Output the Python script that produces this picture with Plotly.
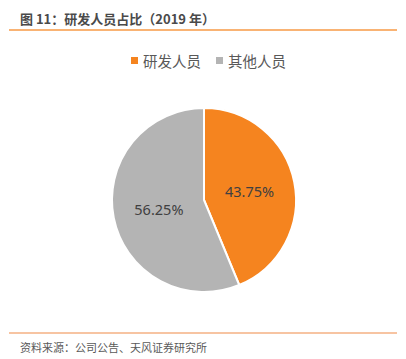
import plotly.graph_objects as go

labels = ["研发人员", "其他人员"]
values = [43.75, 56.25]
colors = ["#F5841F", "#B4B4B4"]

W, H = 406, 359
def py(y):
    return 1 - y / H
def px(x):
    return x / W

fig = go.Figure()
fig.add_trace(go.Pie(
    labels=labels, values=values, sort=False, direction="clockwise", rotation=0,
    marker=dict(colors=colors, line=dict(color="white", width=2)),
    texttemplate="%{percent:.2%}", textposition="inside", insidetextorientation="horizontal",
    insidetextfont=dict(size=14.5, color="#404040", family="Noto Sans, Noto Sans CJK SC"),
    hoverinfo="label+percent",
    domain=dict(x=[px(112), px(296)], y=[py(292), py(108)]),
    showlegend=False,
))

# manual legend built from the labels/colors lists
legend_x = [131, 216]
shapes = [
    dict(type="line", xref="paper", yref="paper", x0=px(9), x1=px(397), y0=py(30), y1=py(30),
         line=dict(color="#F79A46", width=1.5)),
    dict(type="line", xref="paper", yref="paper", x0=px(9), x1=px(397), y0=py(333), y1=py(333),
         line=dict(color="#F4B183", width=1.5)),
]
annotations = [
    dict(text="<b>图 11：研发人员占比（2019 年）</b>", xref="paper", yref="paper",
         x=px(18), y=py(19), xanchor="left", yanchor="middle", showarrow=False,
         font=dict(size=13, color="#4a4a4a", family="Noto Sans CJK SC")),
    dict(text="资料来源：公司公告、天风证券研究所", xref="paper", yref="paper",
         x=px(18), y=py(347), xanchor="left", yanchor="middle", showarrow=False,
         font=dict(size=11, color="#595959", family="Noto Sans CJK SC")),
]
for lab, col, lx in zip(labels, colors, legend_x):
    shapes.append(dict(type="rect", xref="paper", yref="paper",
                       x0=px(lx), x1=px(lx + 7), y0=py(64), y1=py(57),
                       fillcolor=col, line=dict(width=0)))
    annotations.append(dict(text=lab, xref="paper", yref="paper",
                            x=px(lx + 10), y=py(60), xanchor="left", yanchor="middle",
                            showarrow=False,
                            font=dict(size=14.5, color="#595959", family="Noto Sans CJK SC")))

fig.update_layout(
    width=W, height=H, margin=dict(l=0, r=0, t=0, b=0),
    paper_bgcolor="white", plot_bgcolor="white",
    showlegend=False,
    font=dict(family="Noto Sans CJK SC"),
    shapes=shapes,
    annotations=annotations,
)

fig.write_html("out.html", config={"displayModeBar": False},
               post_script=["document.body.style.margin='0';document.body.style.overflow='hidden';"])
